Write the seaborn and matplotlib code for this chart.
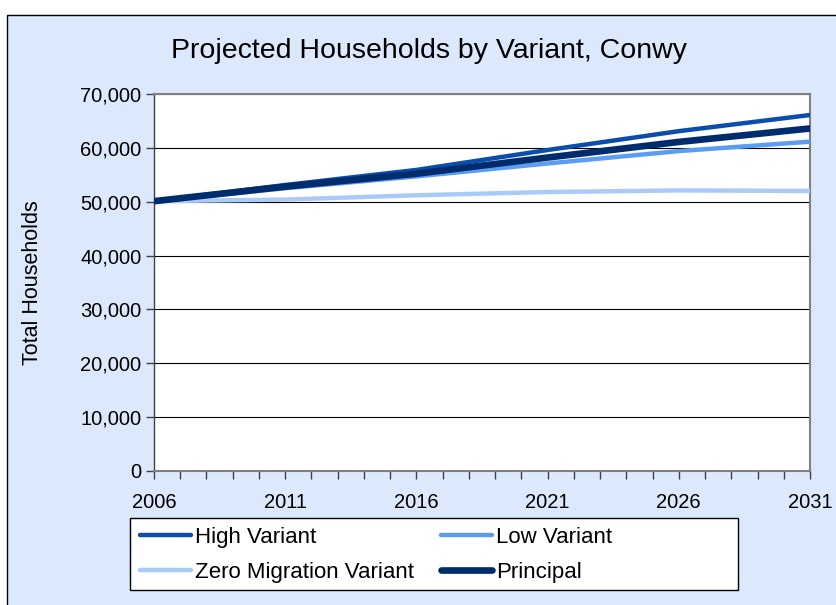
import numpy as np
import pandas as pd
import matplotlib
matplotlib.use("Agg")
import matplotlib.pyplot as plt
import seaborn as sns
from matplotlib.patches import Rectangle
from matplotlib.ticker import FuncFormatter, MultipleLocator, FixedLocator

# values
years = [2006, 2011, 2016, 2021, 2026, 2031]
high = [50100, 53100, 55900, 59600, 63100, 66100]
low = [50100, 52500, 54700, 57100, 59400, 61150]
zero_migration = [50100, 50400, 51200, 51800, 52100, 52000]
principal = [50100, 52800, 55200, 58200, 61100, 63600]

series = {
    "High Variant": high,
    "Low Variant": low,
    "Zero Migration Variant": zero_migration,
    "Principal": principal,
}
colors = {
    "High Variant": "#0B4DAA",
    "Low Variant": "#5A9DF2",
    "Zero Migration Variant": "#A9CBF8",
    "Principal": "#002B6C",
}
widths = {
    "High Variant": 3.2,
    "Low Variant": 3.2,
    "Zero Migration Variant": 3.2,
    "Principal": 4.8,
}

df = pd.concat(
    [pd.DataFrame({"Year": years, "Households": v, "Variant": k}) for k, v in series.items()],
    ignore_index=True,
)

sns.set_style("white")
plt.rcParams["font.family"] = ["Liberation Sans", "DejaVu Sans"]
plt.rcParams["text.color"] = "black"
plt.rcParams["xtick.color"] = "black"
plt.rcParams["ytick.color"] = "black"
plt.rcParams["axes.labelcolor"] = "black"

fig = plt.figure(figsize=(8.37, 6.05), dpi=100)
fig.patch.set_facecolor("white")
# chart area background with border
fig.add_artist(Rectangle((7 / 837, -0.05), 1.0, (605 - 15) / 605 + 0.05,
                         transform=fig.transFigure, facecolor="#DCE9FC",
                         edgecolor="black", linewidth=1.0, zorder=0))

ax = fig.add_axes([154 / 837, 1 - 471 / 605, (810 - 154) / 837, (471 - 94) / 605])
ax.set_facecolor("white")

handles = {}
for name in ["Zero Migration Variant", "Low Variant", "High Variant", "Principal"]:
    sub = df[df["Variant"] == name]
    sns.lineplot(data=sub, x="Year", y="Households", color=colors[name],
                 linewidth=widths[name], ax=ax, solid_capstyle="round", zorder=3)
    handles[name] = ax.lines[-1]

ax.set_xlim(2006, 2031)
ax.set_ylim(0, 70000)
ax.yaxis.set_major_locator(MultipleLocator(10000))
ax.xaxis.set_major_locator(FixedLocator(list(range(2006, 2032, 5))))
ax.xaxis.set_minor_locator(MultipleLocator(1))
ax.xaxis.set_major_formatter(FuncFormatter(lambda v, p: f"{int(v)}"))
ax.yaxis.set_major_formatter(FuncFormatter(lambda v, p: f"{int(v):,}"))
ax.grid(axis="y", color="black", linewidth=0.8)
ax.set_axisbelow(True)

for s in ["top", "right", "bottom"]:
    ax.spines[s].set_color("#808080")
    ax.spines[s].set_linewidth(1.5)
ax.spines["left"].set_color("#404040")
ax.spines["left"].set_linewidth(1.0)

ax.tick_params(axis="y", which="major", direction="out", length=6, width=1, color="#404040",
               labelsize=14.5, pad=3, left=True)
ax.tick_params(axis="x", which="both", direction="out", length=6, width=1, color="#404040",
               labelsize=14.5, pad=10, bottom=True)

ax.set_xlabel("")
ax.set_ylabel("Total Households", fontsize=15.5)
ax.yaxis.set_label_coords((43 - 154) / 656, 0.5)
fig.text(429 / 837, 1 - 51 / 605, "Projected Households by Variant, Conwy",
         ha="center", va="center", fontsize=20.5)

# legend frame drawn separately so it keeps the wide box of the original
fig.add_artist(Rectangle((130 / 837, 1 - 590 / 605), (738 - 130) / 837, 72 / 605,
                         transform=fig.transFigure, facecolor="white",
                         edgecolor="black", linewidth=1.0, zorder=1))
order = ["High Variant", "Zero Migration Variant", "Low Variant", "Principal"]
leg = fig.legend([handles[n] for n in order], order, ncol=2, fontsize=16,
                 loc="upper left", bbox_to_anchor=(134 / 837, 1 - 521 / 605),
                 bbox_transform=fig.transFigure, frameon=False,
                 handlelength=2.3, handletextpad=0.2, columnspacing=1.2,
                 borderpad=0.25, labelspacing=0.65, borderaxespad=0)
leg.set_zorder(5)

fig.savefig("out.png", dpi=100)
